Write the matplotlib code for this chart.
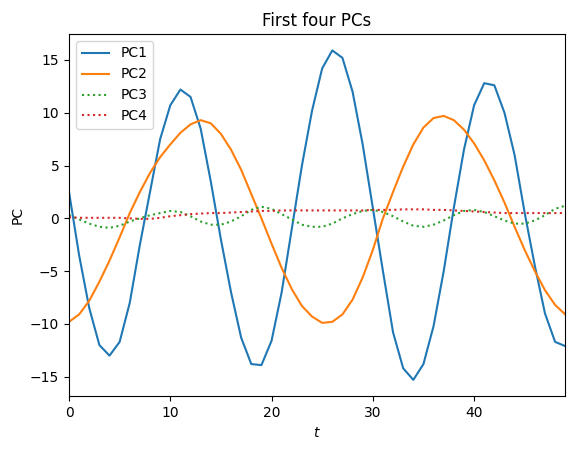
import matplotlib
matplotlib.use("Agg")
import matplotlib.pyplot as plt
import numpy as np

t = np.arange(50)
pc1 = [2.5,-3.5,-8.5,-12,-13,-11.7,-8,-2.5,2.5,7.5,10.7,12.2,11.5,8.5,3.5,-2,-7,-11.3,-13.8,-13.9,
       -11.6,-7,-1,5,10.2,14.2,15.9,15.2,12,7,1,-5,-10.8,-14.2,-15.3,-13.8,-10.2,-5,1,6.5,
       10.7,12.8,12.6,10,6,0.5,-4.5,-9,-11.7,-12.1]
pc2 = [-9.8,-9.1,-7.8,-6,-4,-1.8,0.5,2.5,4.3,5.8,7,8.1,8.9,9.3,9,8,6.5,4.6,2.3,0,
       -2.4,-4.7,-6.7,-8.3,-9.3,-9.9,-9.8,-9.1,-7.7,-5.6,-3,0,2.5,4.9,7,8.6,9.5,9.7,9.3,8.4,
       7.1,5.5,3.6,1.5,-0.8,-3,-5,-6.8,-8.2,-9.1]
pc3 = [0.3,-0.1,-0.5,-0.8,-0.9,-0.7,-0.3,0,0.3,0.5,0.7,0.6,0.2,-0.3,-0.6,-0.6,-0.3,0.2,0.8,1.1,
       0.9,0.4,-0.1,-0.6,-0.8,-0.8,-0.5,0,0.4,0.7,0.8,0.6,0.2,-0.3,-0.7,-0.8,-0.6,-0.2,0.3,0.7,
       0.8,0.6,0.2,-0.2,-0.5,-0.5,-0.2,0.3,0.9,1.2]
pc4 = [0.1,0.05,0.05,0.05,0.05,0.05,0.0,-0.05,-0.05,0.05,0.2,0.3,0.4,0.45,0.5,0.5,0.55,0.6,0.65,0.7,
       0.7,0.75,0.75,0.75,0.75,0.75,0.75,0.75,0.75,0.75,0.8,0.8,0.8,0.85,0.85,0.85,0.8,0.8,0.75,0.7,
       0.65,0.6,0.55,0.5,0.5,0.5,0.5,0.5,0.5,0.5]

fig, ax = plt.subplots(figsize=(5.75, 4.53), dpi=100)
ax.plot(t, pc1, label="PC1")
ax.plot(t, pc2, label="PC2")
ax.plot(t, pc3, ':', label="PC3")
ax.plot(t, pc4, ':', label="PC4")
ax.set_xlim(0, 49)
ax.set_xlabel("$t$")
ax.set_ylabel("PC")
ax.set_title("First four PCs")
ax.legend(loc="upper left")
fig.subplots_adjust(left=0.12, right=0.983, top=0.925, bottom=0.125)
fig.savefig("out.png")
